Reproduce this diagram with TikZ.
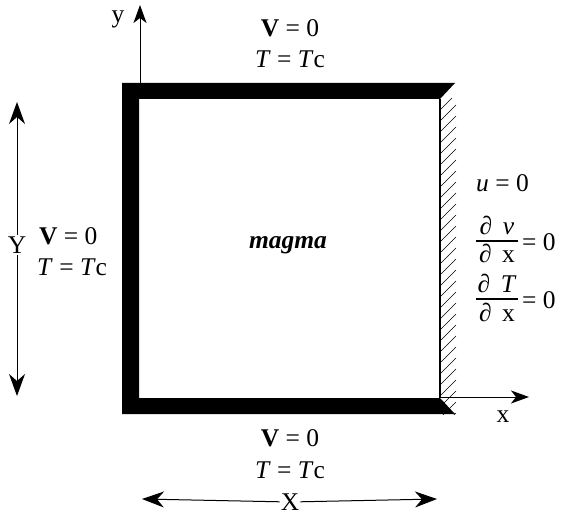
\documentclass[tikz,border=0pt]{standalone}
\usepackage{fontspec}
\setmainfont{Liberation Serif}
\usetikzlibrary{arrows.meta}
\tikzset{
  lbl/.style={inner sep=0pt, font=\fontsize{25.5}{30}\selectfont},
  arr/.style={line width=1pt, -{Stealth[length=18pt,width=13pt,inset=5pt]}},
  darr/.style={line width=1pt, -{Stealth[length=22pt,width=16pt,inset=7pt]}},
  bar/.style={line width=1.1pt},
}
\begin{document}
\begin{tikzpicture}[x=1pt,y=-1pt]
\useasboundingbox (0,0) rectangle (563,516);
% hatching
\begin{scope}
\clip (440,99) rectangle (456,414);
\foreach \k in {0,...,30} {
  \draw[line width=0.6pt] (440,110+11*\k) -- ++(16,-16);
}
\end{scope}
% frame
\fill[black] (122,83) -- (455,83) -- (440,99) -- (139,99) -- (139,398) -- (440,398) -- (455,414) -- (122,414) -- cycle;
\coordinate (wt) at (440,99);
\coordinate (wb) at (440,398);
\draw[line width=1.2pt] (wt) -- (wb);
% axes
\coordinate (o) at (140,84);
\coordinate (ytip) at (140,5);
\draw[arr] (o) -- (ytip);
\coordinate (xo) at (440,397);
\coordinate (xtip) at (529,397);
\draw[arr] (xo) -- (xtip);
\node[lbl] (ylab) at (118,19) {y};
\node[lbl] (xlab) at (503,417) {x};
% top
\node[lbl] (tv) at (290,28) {\textbf{V} = 0};
\node[lbl] (tt) at (290,59) {\textit{T} = \textit{T}c};
% left
\node[lbl,anchor=west] (lv) at (39,236) {\textbf{V} = 0};
\node[lbl,anchor=west] (lt) at (37,267) {\textit{T} = \textit{T}c};
% bottom
\node[lbl] (bv) at (290,438) {\textbf{V} = 0};
\node[lbl] (bt) at (290,470) {\textit{T} = \textit{T}c};
% centre
\node[lbl] (magma) at (288,245) {\textbf{\textit{magma}}};
% right
\node[lbl,anchor=west] (ru) at (476,183) {\textit{u} = 0};
% fraction 1
\coordinate (b1l) at (476,241);
\coordinate (b1r) at (518,241);
\draw[bar] (b1l) -- (b1r);
\node[lbl,anchor=base] (n1) at (497,235) {∂\, \textit{v}};
\node[lbl,anchor=base] (d1) at (497,263) {∂\, x};
\node[lbl,anchor=west] (e1) at (522,242) {= 0};
% fraction 2
\coordinate (b2l) at (476,299);
\coordinate (b2r) at (518,299);
\draw[bar] (b2l) -- (b2r);
\node[lbl,anchor=base] (n2) at (497,293) {∂\, \textit{T}};
\node[lbl,anchor=base] (d2) at (497,321) {∂\, x};
\node[lbl,anchor=west] (e2) at (522,300) {= 0};
% Y dimension
\node[lbl,fill=white,inner sep=1pt] (Y) at (17,245) {Y};
\coordinate (Ytop) at (17,102);
\coordinate (Ybot) at (17,396);
\draw[darr] (Y) -- (Ytop);
\draw[darr] (Y) -- (Ybot);
% X dimension
\node[lbl,fill=white,inner sep=1pt] (X) at (290,502) {X};
\coordinate (Xl) at (142,499);
\coordinate (Xr) at (437,499);
\draw[darr] (X) -- (Xl);
\draw[darr] (X) -- (Xr);
\end{tikzpicture}
\end{document}
